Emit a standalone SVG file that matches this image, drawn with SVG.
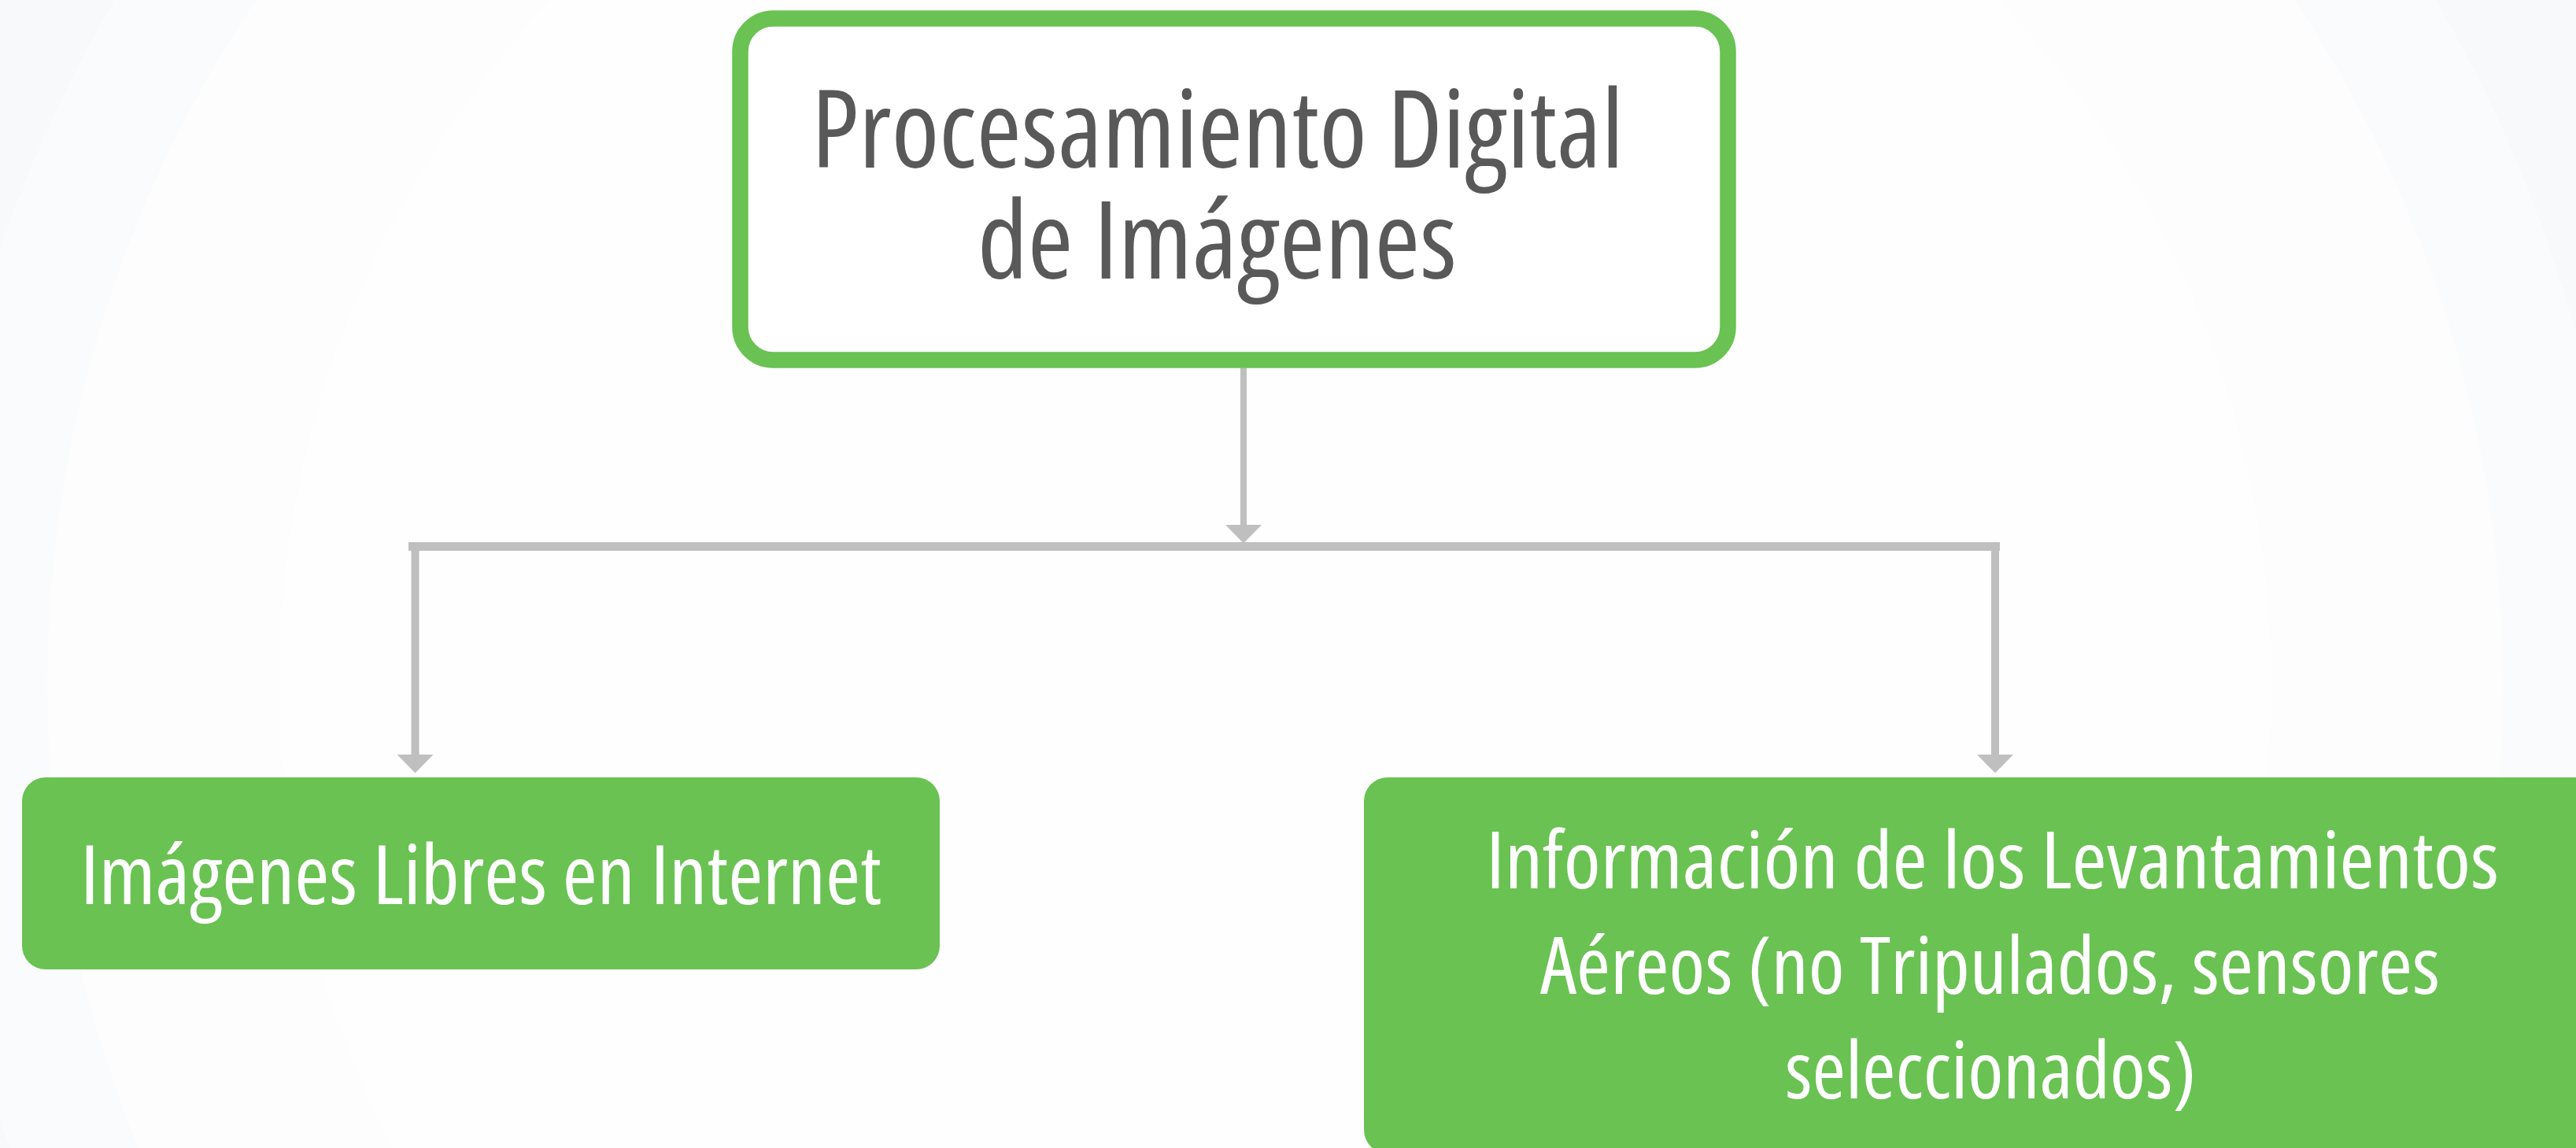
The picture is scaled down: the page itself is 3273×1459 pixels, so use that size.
<svg xmlns="http://www.w3.org/2000/svg" width="3273" height="1459" viewBox="0 0 3273 1459">
  <style>
    .title { font-family: "Open Sans", "Noto Sans", "Liberation Sans", sans-serif; font-stretch: condensed; fill: #595959; text-anchor: middle; }
    .label { font-family: "Open Sans", "Noto Sans", "Liberation Sans", sans-serif; font-stretch: condensed; fill: #FFFFFF; text-anchor: middle; }
    .conn { stroke: #BFBFBF; fill: none; }
    .head { fill: #BFBFBF; }
    .leaf { fill: #69C252; }
  </style>
  <defs>
    <marker id="arrow" markerUnits="userSpaceOnUse" markerWidth="24" markerHeight="46" refX="0" refY="23" orient="auto" viewBox="0 0 24 46">
      <path class="head" d="M0,0 L23.5,23 L0,46 Z"/>
    </marker>
  </defs>

  <!-- background -->
  <g id="background">
    <rect x="0" y="0" width="3273" height="1459" fill="#F8F9FB"/>
    <circle cx="1620" cy="870" r="1712" fill="#FAFBFC"/>
    <circle cx="1620" cy="870" r="1560" fill="#FCFDFC"/>
    <circle cx="1620" cy="870" r="1266" fill="#FEFEFE"/>
  </g>

  <!-- connectors -->
  <g id="connectors">
    <line class="conn" x1="1580" y1="458" x2="1580" y2="667" stroke-width="8" marker-end="url(#arrow)"/>
    <rect class="head" x="519" y="689" width="2022" height="11"/>
    <line class="conn" x1="527.5" y1="695" x2="527.5" y2="959" stroke-width="10" marker-end="url(#arrow)"/>
    <line class="conn" x1="2535" y1="695" x2="2535" y2="959" stroke-width="10" marker-end="url(#arrow)"/>
  </g>

  <!-- root node -->
  <g id="node-root">
    <rect x="940.5" y="23.5" width="1255" height="434" rx="42" ry="42" fill="#FFFFFF" stroke="#69C252" stroke-width="20.5"/>
    <text class="title" x="1547" y="213" font-size="137" textLength="1032" lengthAdjust="spacingAndGlyphs">Procesamiento Digital</text>
    <text class="title" x="1546.5" y="354" font-size="137" textLength="609" lengthAdjust="spacingAndGlyphs">de Imágenes</text>
  </g>

  <!-- left child -->
  <g id="node-internet">
    <rect class="leaf" x="28" y="988" width="1166" height="244" rx="30" ry="30"/>
    <text class="label" x="611" y="1149" font-size="105" textLength="1018" lengthAdjust="spacingAndGlyphs">Imágenes Libres en Internet</text>
  </g>

  <!-- right child -->
  <g id="node-levantamientos">
    <rect class="leaf" x="1733" y="988" width="1600" height="478" rx="30" ry="30"/>
    <text class="label" x="2531.5" y="1129" font-size="101" textLength="1287" lengthAdjust="spacingAndGlyphs">Información de los Levantamientos</text>
    <text class="label" x="2528.5" y="1263" font-size="101" textLength="1143" lengthAdjust="spacingAndGlyphs">Aéreos (no Tripulados, sensores</text>
    <text class="label" x="2529" y="1396" font-size="101" textLength="522" lengthAdjust="spacingAndGlyphs">seleccionados)</text>
  </g>
</svg>
